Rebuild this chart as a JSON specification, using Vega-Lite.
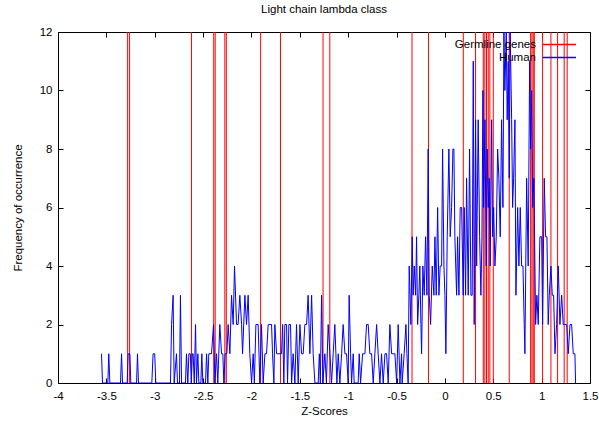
{
  "$schema": "https://vega.github.io/schema/vega-lite/v6.json",
  "width": 532,
  "height": 351,
  "autosize": {"type": "none"},
  "padding": {"left": 58, "top": 32, "right": 9, "bottom": 40},
  "title": {"text": "Light chain lambda class", "fontSize": 11.5, "fontWeight": "normal", "font": "Liberation Sans", "offset": 11, "anchor": "middle", "color": "black"},
  "config": {
    "view": {"stroke": "black", "strokeWidth": 1},
    "font": "Liberation Sans",
    "axis": {"grid": false, "domain": false, "tickColor": "black", "tickSize": -5, "labelFontSize": 11.5, "labelColor": "black", "titleFontSize": 11.5, "titleFontWeight": "normal", "titleColor": "black", "labelFont": "Liberation Sans", "titleFont": "Liberation Sans", "labelFlush": false, "labelOverlap": false}
  },
  "datasets": {
    "genes": [
      {"z": -3.28}, {"z": -3.26}, {"z": -2.62}, {"z": -2.39}, {"z": -2.375}, {"z": -2.275}, {"z": -2.26}, {"z": -1.905}, {"z": -1.70}, {"z": -1.26}, {"z": -1.19}, {"z": -0.34}, {"z": -0.17}, {"z": 0.19}, {"z": 0.317}, {"z": 0.397}, {"z": 0.413}, {"z": 0.43}, {"z": 0.448}, {"z": 0.465}, {"z": 0.50}, {"z": 0.665}, {"z": 0.886}, {"z": 0.90}, {"z": 0.913}, {"z": 0.924}, {"z": 1.01}, {"z": 1.096}, {"z": 1.165}, {"z": 1.233}, {"z": 1.264}
    ],
    "human": [
      {"z": -3.550, "freq": 1}, {"z": -3.540, "freq": 0}, {"z": -3.485, "freq": 0}, {"z": -3.475, "freq": 1}, {"z": -3.464, "freq": 0},
      {"z": -3.354, "freq": 0}, {"z": -3.343, "freq": 1}, {"z": -3.333, "freq": 0}, {"z": -3.285, "freq": 0}, {"z": -3.275, "freq": 1},
      {"z": -3.257, "freq": 1}, {"z": -3.247, "freq": 0}, {"z": -3.188, "freq": 0}, {"z": -3.178, "freq": 1}, {"z": -3.168, "freq": 0},
      {"z": -3.030, "freq": 0}, {"z": -3.017, "freq": 1}, {"z": -3.000, "freq": 1}, {"z": -2.989, "freq": 0}, {"z": -2.837, "freq": 0},
      {"z": -2.826, "freq": 2}, {"z": -2.810, "freq": 3}, {"z": -2.799, "freq": 0}, {"z": -2.775, "freq": 1}, {"z": -2.765, "freq": 0},
      {"z": -2.744, "freq": 0}, {"z": -2.734, "freq": 3}, {"z": -2.723, "freq": 0}, {"z": -2.682, "freq": 0}, {"z": -2.672, "freq": 1},
      {"z": -2.658, "freq": 0}, {"z": -2.647, "freq": 1}, {"z": -2.632, "freq": 1}, {"z": -2.622, "freq": 0}, {"z": -2.611, "freq": 1},
      {"z": -2.603, "freq": 1}, {"z": -2.591, "freq": 0}, {"z": -2.578, "freq": 2}, {"z": -2.568, "freq": 0}, {"z": -2.554, "freq": 1},
      {"z": -2.544, "freq": 0}, {"z": -2.523, "freq": 0}, {"z": -2.513, "freq": 1}, {"z": -2.503, "freq": 0}, {"z": -2.475, "freq": 0},
      {"z": -2.464, "freq": 1}, {"z": -2.451, "freq": 0}, {"z": -2.441, "freq": 1}, {"z": -2.413, "freq": 1}, {"z": -2.392, "freq": 2},
      {"z": -2.378, "freq": 0}, {"z": -2.361, "freq": 1}, {"z": -2.348, "freq": 0}, {"z": -2.327, "freq": 2}, {"z": -2.309, "freq": 1},
      {"z": -2.296, "freq": 1}, {"z": -2.285, "freq": 0}, {"z": -2.272, "freq": 1}, {"z": -2.254, "freq": 1}, {"z": -2.241, "freq": 2},
      {"z": -2.223, "freq": 1}, {"z": -2.206, "freq": 3}, {"z": -2.189, "freq": 2}, {"z": -2.175, "freq": 4}, {"z": -2.154, "freq": 2},
      {"z": -2.138, "freq": 2}, {"z": -2.120, "freq": 3}, {"z": -2.102, "freq": 2}, {"z": -2.092, "freq": 1}, {"z": -2.068, "freq": 3},
      {"z": -2.051, "freq": 2}, {"z": -2.034, "freq": 3}, {"z": -2.017, "freq": 1}, {"z": -1.999, "freq": 0}, {"z": -1.982, "freq": 1},
      {"z": -1.970, "freq": 0}, {"z": -1.954, "freq": 2}, {"z": -1.931, "freq": 2}, {"z": -1.913, "freq": 0}, {"z": -1.896, "freq": 2},
      {"z": -1.879, "freq": 0}, {"z": -1.861, "freq": 1}, {"z": -1.844, "freq": 1}, {"z": -1.827, "freq": 2}, {"z": -1.810, "freq": 2},
      {"z": -1.792, "freq": 2}, {"z": -1.782, "freq": 1}, {"z": -1.768, "freq": 0}, {"z": -1.758, "freq": 2}, {"z": -1.740, "freq": 1},
      {"z": -1.689, "freq": 1}, {"z": -1.678, "freq": 2}, {"z": -1.665, "freq": 0}, {"z": -1.655, "freq": 2}, {"z": -1.637, "freq": 2},
      {"z": -1.627, "freq": 0}, {"z": -1.613, "freq": 2}, {"z": -1.596, "freq": 2}, {"z": -1.585, "freq": 0}, {"z": -1.569, "freq": 1},
      {"z": -1.551, "freq": 0}, {"z": -1.534, "freq": 2}, {"z": -1.517, "freq": 0}, {"z": -1.499, "freq": 2}, {"z": -1.482, "freq": 1},
      {"z": -1.465, "freq": 1}, {"z": -1.448, "freq": 2}, {"z": -1.430, "freq": 2}, {"z": -1.414, "freq": 3}, {"z": -1.396, "freq": 1},
      {"z": -1.378, "freq": 3}, {"z": -1.362, "freq": 1}, {"z": -1.344, "freq": 0}, {"z": -1.310, "freq": 0}, {"z": -1.298, "freq": 1},
      {"z": -1.288, "freq": 0}, {"z": -1.275, "freq": 3}, {"z": -1.262, "freq": 0}, {"z": -1.241, "freq": 1}, {"z": -1.225, "freq": 0},
      {"z": -1.207, "freq": 2}, {"z": -1.189, "freq": 1}, {"z": -1.172, "freq": 0}, {"z": -1.155, "freq": 1}, {"z": -1.138, "freq": 2},
      {"z": -1.127, "freq": 1}, {"z": -1.117, "freq": 0}, {"z": -1.103, "freq": 1}, {"z": -1.086, "freq": 0}, {"z": -1.068, "freq": 1},
      {"z": -1.052, "freq": 2}, {"z": -1.034, "freq": 1}, {"z": -1.017, "freq": 1}, {"z": -1.000, "freq": 0}, {"z": -0.990, "freq": 3},
      {"z": -0.975, "freq": 1}, {"z": -0.965, "freq": 0}, {"z": -0.948, "freq": 1}, {"z": -0.938, "freq": 0}, {"z": -0.897, "freq": 0},
      {"z": -0.886, "freq": 1}, {"z": -0.872, "freq": 0}, {"z": -0.851, "freq": 1}, {"z": -0.827, "freq": 1}, {"z": -0.810, "freq": 2},
      {"z": -0.793, "freq": 2}, {"z": -0.776, "freq": 1}, {"z": -0.758, "freq": 1}, {"z": -0.741, "freq": 0}, {"z": -0.724, "freq": 1},
      {"z": -0.706, "freq": 2}, {"z": -0.690, "freq": 1}, {"z": -0.672, "freq": 0}, {"z": -0.655, "freq": 1}, {"z": -0.638, "freq": 0},
      {"z": -0.620, "freq": 1}, {"z": -0.603, "freq": 1}, {"z": -0.586, "freq": 0}, {"z": -0.569, "freq": 2}, {"z": -0.551, "freq": 1},
      {"z": -0.535, "freq": 1}, {"z": -0.517, "freq": 1}, {"z": -0.499, "freq": 0}, {"z": -0.483, "freq": 2}, {"z": -0.465, "freq": 0},
      {"z": -0.448, "freq": 1}, {"z": -0.442, "freq": 0}, {"z": -0.421, "freq": 1}, {"z": -0.403, "freq": 2}, {"z": -0.393, "freq": 1},
      {"z": -0.380, "freq": 0}, {"z": -0.369, "freq": 4}, {"z": -0.352, "freq": 2}, {"z": -0.338, "freq": 5}, {"z": -0.328, "freq": 3},
      {"z": -0.317, "freq": 4}, {"z": -0.303, "freq": 3}, {"z": -0.293, "freq": 5}, {"z": -0.282, "freq": 2}, {"z": -0.269, "freq": 3},
      {"z": -0.259, "freq": 4}, {"z": -0.248, "freq": 2}, {"z": -0.241, "freq": 1}, {"z": -0.228, "freq": 4}, {"z": -0.214, "freq": 3},
      {"z": -0.200, "freq": 5}, {"z": -0.186, "freq": 3}, {"z": -0.173, "freq": 8}, {"z": -0.162, "freq": 3}, {"z": -0.148, "freq": 2},
      {"z": -0.131, "freq": 4}, {"z": -0.114, "freq": 3}, {"z": -0.103, "freq": 5}, {"z": -0.090, "freq": 3}, {"z": -0.075, "freq": 6},
      {"z": -0.062, "freq": 3}, {"z": -0.049, "freq": 4}, {"z": -0.034, "freq": 4}, {"z": -0.024, "freq": 8}, {"z": -0.010, "freq": 4},
      {"z": 0.000, "freq": 3}, {"z": 0.010, "freq": 1}, {"z": 0.024, "freq": 5}, {"z": 0.041, "freq": 8}, {"z": 0.055, "freq": 5},
      {"z": 0.069, "freq": 6}, {"z": 0.083, "freq": 8}, {"z": 0.093, "freq": 8}, {"z": 0.103, "freq": 5}, {"z": 0.121, "freq": 3},
      {"z": 0.131, "freq": 5}, {"z": 0.145, "freq": 3}, {"z": 0.158, "freq": 6}, {"z": 0.173, "freq": 6}, {"z": 0.189, "freq": 3},
      {"z": 0.200, "freq": 6}, {"z": 0.214, "freq": 3}, {"z": 0.224, "freq": 7}, {"z": 0.241, "freq": 3}, {"z": 0.255, "freq": 8},
      {"z": 0.269, "freq": 3}, {"z": 0.282, "freq": 3}, {"z": 0.293, "freq": 11}, {"z": 0.303, "freq": 2}, {"z": 0.317, "freq": 9},
      {"z": 0.328, "freq": 4}, {"z": 0.344, "freq": 9}, {"z": 0.359, "freq": 5}, {"z": 0.372, "freq": 3}, {"z": 0.383, "freq": 5},
      {"z": 0.393, "freq": 10}, {"z": 0.400, "freq": 6}, {"z": 0.414, "freq": 9}, {"z": 0.427, "freq": 4}, {"z": 0.437, "freq": 8},
      {"z": 0.448, "freq": 6}, {"z": 0.458, "freq": 7}, {"z": 0.468, "freq": 4}, {"z": 0.483, "freq": 9}, {"z": 0.493, "freq": 5},
      {"z": 0.504, "freq": 6}, {"z": 0.517, "freq": 4}, {"z": 0.531, "freq": 5}, {"z": 0.545, "freq": 8}, {"z": 0.558, "freq": 7},
      {"z": 0.572, "freq": 5}, {"z": 0.586, "freq": 9}, {"z": 0.600, "freq": 6}, {"z": 0.610, "freq": 12}, {"z": 0.620, "freq": 10},
      {"z": 0.634, "freq": 12}, {"z": 0.644, "freq": 9}, {"z": 0.655, "freq": 11}, {"z": 0.665, "freq": 7}, {"z": 0.675, "freq": 12},
      {"z": 0.690, "freq": 9}, {"z": 0.700, "freq": 6}, {"z": 0.710, "freq": 7}, {"z": 0.724, "freq": 9}, {"z": 0.734, "freq": 3},
      {"z": 0.752, "freq": 6}, {"z": 0.765, "freq": 4}, {"z": 0.779, "freq": 6}, {"z": 0.793, "freq": 4}, {"z": 0.807, "freq": 4},
      {"z": 0.820, "freq": 2}, {"z": 0.827, "freq": 1}, {"z": 0.845, "freq": 7}, {"z": 0.861, "freq": 4}, {"z": 0.876, "freq": 11},
      {"z": 0.886, "freq": 8}, {"z": 0.897, "freq": 10}, {"z": 0.907, "freq": 6}, {"z": 0.920, "freq": 7}, {"z": 0.938, "freq": 2},
      {"z": 0.951, "freq": 3}, {"z": 0.965, "freq": 2}, {"z": 0.982, "freq": 5}, {"z": 1.000, "freq": 5}, {"z": 1.010, "freq": 2},
      {"z": 1.027, "freq": 7}, {"z": 1.041, "freq": 5}, {"z": 1.055, "freq": 5}, {"z": 1.068, "freq": 2}, {"z": 1.079, "freq": 3},
      {"z": 1.096, "freq": 4}, {"z": 1.110, "freq": 3}, {"z": 1.124, "freq": 3}, {"z": 1.138, "freq": 1}, {"z": 1.155, "freq": 2},
      {"z": 1.172, "freq": 4}, {"z": 1.189, "freq": 2}, {"z": 1.207, "freq": 3}, {"z": 1.223, "freq": 2}, {"z": 1.241, "freq": 2},
      {"z": 1.259, "freq": 2}, {"z": 1.275, "freq": 1}, {"z": 1.293, "freq": 2}, {"z": 1.310, "freq": 2}, {"z": 1.327, "freq": 1},
      {"z": 1.344, "freq": 1}, {"z": 1.351, "freq": 0}
    ]
  },
  "layer": [
    {
      "data": {"name": "genes"},
      "mark": {"type": "rule", "strokeWidth": 1},
      "encoding": {
        "x": {"field": "z", "type": "quantitative", "scale": {"domain": [-4, 1.5], "nice": false, "zero": false},
              "axis": {"orient": "top", "labels": false, "title": null, "values": [-4, -3.5, -3, -2.5, -2, -1.5, -1, -0.5, 0, 0.5, 1, 1.5]}},
        "stroke": {"datum": "Germline genes", "type": "nominal",
                  "scale": {"domain": ["Germline genes", "Human"], "range": ["#ff0000", "#0000ff"]},
                  "legend": {"orient": "none", "legendX": 495, "legendY": 6, "title": null, "symbolType": "M-3,0H3", "symbolSize": 121, "symbolStrokeWidth": 1.5, "labelFontSize": 11.5, "labelFont": "Liberation Sans", "labelColor": "black", "labelAlign": "right", "labelOffset": -30, "rowPadding": 1, "padding": 0, "labelLimit": 200}}
      }
    },
    {
      "data": {"name": "human"},
      "mark": {"type": "line", "strokeWidth": 1, "clip": true},
      "encoding": {
        "x": {"field": "z", "type": "quantitative", "scale": {"domain": [-4, 1.5], "nice": false, "zero": false},
              "axis": {"orient": "bottom", "title": "Z-Scores", "format": "~g", "values": [-4, -3.5, -3, -2.5, -2, -1.5, -1, -0.5, 0, 0.5, 1, 1.5], "labelPadding": 12, "titlePadding": 4, "labelExpr": "replace(datum.label, '\u2212', '-')"}},
        "y": {"field": "freq", "type": "quantitative", "scale": {"domain": [0, 12], "nice": false},
              "axis": {"orient": "left", "title": "Frequency of occurrence", "values": [0, 2, 4, 6, 8, 10, 12], "labelPadding": 11, "titlePadding": 16}},
        "stroke": {"datum": "Human", "type": "nominal"}
      }
    },
    {
      "data": {"name": "human"},
      "mark": {"type": "point", "opacity": 0},
      "encoding": {
        "y": {"field": "freq", "type": "quantitative", "scale": {"domain": [0, 12], "nice": false},
              "axis": {"orient": "right", "labels": false, "title": null, "values": [0, 2, 4, 6, 8, 10, 12]}}
      }
    }
  ]
}
